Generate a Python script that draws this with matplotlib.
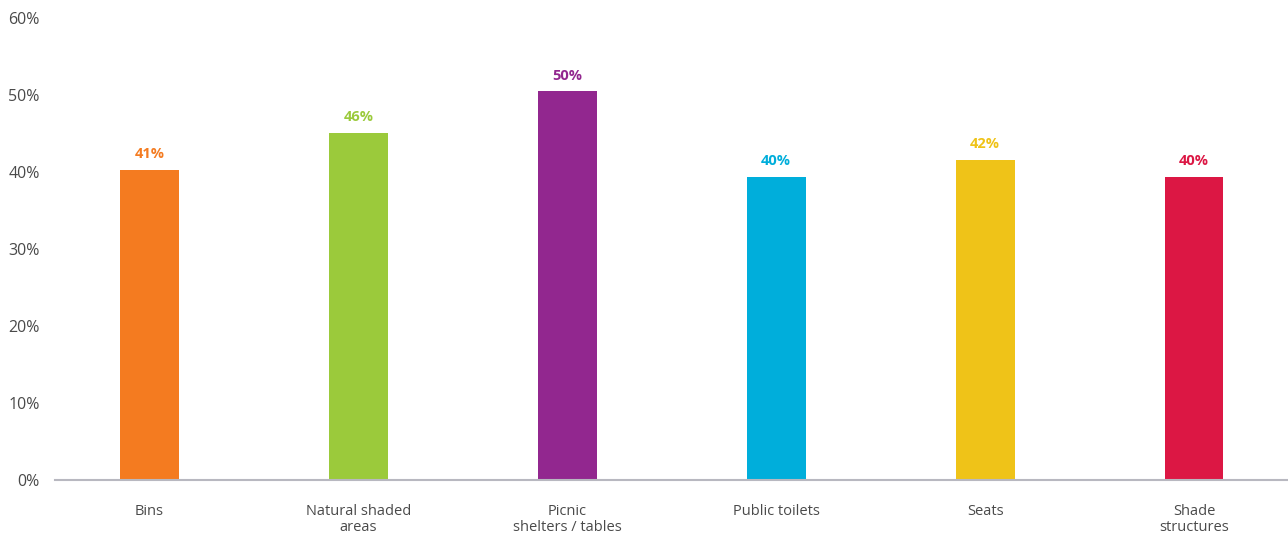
import numpy as np
import matplotlib.pyplot as plt

categories = ["Bins", "Natural shaded\nareas", "Picnic\nshelters / tables",
              "Public toilets", "Seats", "Shade\nstructures"]
values = [40.3, 45.1, 50.5, 39.4, 41.6, 39.4]
value_labels = ["41%", "46%", "50%", "40%", "42%", "40%"]
colors = ["#F47B20", "#9BCA3B", "#92278F", "#00AEDB", "#EFC318", "#DC1744"]
yticks = [0, 10, 20, 30, 40, 50, 60]

plt.rcParams['font.family'] = ['Open Sans', 'DejaVu Sans']

fig = plt.figure(figsize=(12.88, 5.33), dpi=100)
ax = fig.add_axes([55 / 1288, 1 - 480 / 533, 1 - 55 / 1288, (480 - 18) / 533])

x = np.arange(len(categories))
ax.bar(x, values, width=0.282, color=colors, zorder=2)
for xi, v, lab, c in zip(x, values, value_labels, colors):
    ax.text(xi, v + 1.1, lab, ha='center', va='bottom', color=c,
            fontsize=10.5, fontweight='bold')

ax.set_xlim(-0.452, 5.45)
ax.set_ylim(0, 60)
ax.set_yticks(yticks)
ax.set_yticklabels([f"{t}%" for t in yticks])
ax.set_xticks(x)
ax.set_xticklabels(categories, linespacing=1.15)

for s in ['top', 'right', 'left']:
    ax.spines[s].set_visible(False)
ax.spines['bottom'].set_color('#b8b8c0')
ax.spines['bottom'].set_linewidth(1.5)
ax.tick_params(axis='both', length=0, colors='#4a4a4a')
ax.tick_params(axis='y', labelsize=11.5, pad=11)
ax.tick_params(axis='x', labelsize=10.5, pad=17)

plt.savefig("out.png", dpi=100)
